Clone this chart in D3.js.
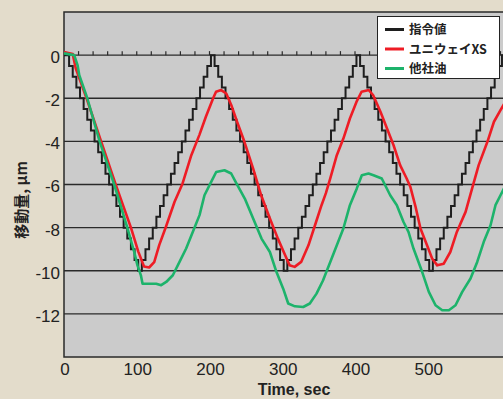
<!DOCTYPE html>
<html>
<head>
<meta charset="utf-8">
<script src="https://cdn.jsdelivr.net/npm/d3@7"></script>
<style>
  html, body { margin: 0; padding: 0; background: #e3dccb; }
  svg { display: block; }
</style>
</head>
<body>
<div id="chart"></div>
<script>
// command signal: 0.5 um steps, one value every 5 s starting at t = 2
const cmdStart = 2;
const cmdStep = 5;
const cmdValues = [
  0, -0.5, -1, -1.5, -2, -2.5, -3, -3.5, -4, -4.5, -5, -5.5, -6, -6.5, -7, -7.5, -8, -8.5, -9, -9.5, -10,
  -9.5, -9, -8.5, -8, -7.5, -7, -6.5, -6, -5.5, -5, -4.5, -4, -3.5, -3, -2.5, -2, -1.5, -1, -0.5,
  0, -0.5, -1, -1.5, -2, -2.5, -3, -3.5, -4, -4.5, -5, -5.5, -6, -6.5, -7, -7.5, -8, -8.5, -9, -9.5, -10,
  -9.5, -9, -8.5, -8, -7.5, -7, -6.5, -6, -5.5, -5, -4.5, -4, -3.5, -3, -2.5, -2, -1.5, -1, -0.5,
  0, -0.5, -1, -1.5, -2, -2.5, -3, -3.5, -4, -4.5, -5, -5.5, -6, -6.5, -7, -7.5, -8, -8.5, -9, -9.5, -10,
  -9.5, -9, -8.5, -8, -7.5, -7, -6.5, -6, -5.5, -5, -4.5, -4, -3.5, -3, -2.5, -2, -1.5, -1, -0.5,
  0, -0.5
];

// ユニウェイXS
const redTime = [0, 12, 16, 31, 51, 71, 92, 102, 110, 117, 124, 131, 140, 152, 163, 175, 186, 195, 205, 209,
  216, 223, 230, 238, 248, 260, 271, 283, 294, 304, 310, 317, 326, 336, 345, 354, 360, 366, 375, 384,
  393, 402, 409, 419, 425, 435, 444, 453, 462, 471, 476, 483, 490, 499, 506, 513, 522, 531, 540, 552,
  561, 570, 582, 591, 600, 606];
const redValue = [0.15, 0.05, -0.6, -2, -4, -6, -8, -9.1, -9.8, -9.85, -9.6, -8.8, -7.97, -6.8, -5.95, -4.64, -3.71, -2.86, -2.0, -1.7,
  -1.62, -1.78, -2.32, -3.1, -4.02, -5.26, -6.5, -7.58, -8.51, -9.28, -9.74, -9.82, -9.59, -8.82, -7.89, -6.96, -6.4, -5.72, -4.64, -3.87,
  -2.94, -2.17, -1.7, -1.62, -1.86, -2.63, -3.4, -4.18, -5.1, -5.72, -6.1, -7.0, -8.04, -8.82, -9.43, -9.75, -9.67, -9.13, -8.2, -7.27,
  -6.18, -5.1, -4.02, -3.09, -2.55, -2.2];

// 他社油
const greenTime = [0, 14, 18.6, 21, 32, 49, 69, 87, 96.5, 101, 105.6, 108, 117.5, 126.7, 133.6, 140.5, 149.6, 158.8, 167.9, 177,
  186.3, 193.1, 202.3, 209.2, 220.6, 229.8, 237, 248.5, 260, 271.5, 283, 292.1, 301.3, 308.2, 317.4, 328.8, 337.9, 347.1, 356, 366,
  375, 384, 393, 402.5, 409.4, 418.6, 425.4, 436.8, 448.4, 457.5, 466.7, 473.5, 480.4, 492.4, 501.5, 510.7, 519.9, 529, 538.2, 547.4,
  558.8, 568, 577, 586.3, 593.1, 600, 606];
const greenValue = [0.08, 0, -0.46, -0.93, -2, -4, -6, -8, -9.13, -9.75, -10.2, -10.6, -10.6, -10.6, -10.67, -10.52, -10.21, -9.59, -8.97, -8.2,
  -7.42, -6.5, -5.88, -5.42, -5.34, -5.49, -5.95, -6.65, -7.58, -8.51, -9.13, -10.06, -10.83, -11.52, -11.65, -11.68, -11.52, -11.06, -10.45, -9.59,
  -8.82, -8.04, -6.96, -6.18, -5.57, -5.49, -5.57, -5.72, -6.5, -6.96, -7.74, -8.2, -8.97, -10.06, -10.98, -11.6, -11.83, -11.83, -11.6, -10.98,
  -10.36, -9.59, -8.66, -7.89, -6.96, -6.5, -6.1];

const xTicks = [0, 100, 200, 300, 400, 500];
const yTicks = [0, -2, -4, -6, -8, -10, -12];
const legendNames = ["指令値", "ユニウェイXS", "他社油"];
const legendColors = ["#1e1e1e", "#ee1c25", "#1db36b"];

const W = 503, H = 399;
const plotLeft = 64, plotTop = 12, plotBottom = 357;

const svg = d3.select("#chart").append("svg")
    .attr("width", W)
    .attr("height", H);

const x = d3.scaleLinear().domain([0, 600]).range([plotLeft, plotLeft + 436.5]);
const y = d3.scaleLinear().domain([2, -14]).range([plotTop, plotBottom]);

svg.append("rect")
    .attr("x", plotLeft).attr("y", plotTop)
    .attr("width", W - plotLeft + 2).attr("height", plotBottom - plotTop)
    .attr("fill", "#cbcbcb")
    .attr("stroke", "#2a2a2a")
    .attr("stroke-width", 1.5);

svg.append("clipPath").attr("id", "clip")
    .append("rect")
    .attr("x", plotLeft).attr("y", plotTop)
    .attr("width", W - plotLeft).attr("height", plotBottom - plotTop);

// grid lines
svg.append("g").selectAll("line")
    .data(yTicks)
    .join("line")
    .attr("x1", plotLeft).attr("x2", W)
    .attr("y1", d => y(d)).attr("y2", d => y(d))
    .attr("stroke", "#2a2a2a")
    .attr("stroke-width", 1.3);

// small ticks on the zero line, every 20 s
svg.append("g").selectAll("line")
    .data(d3.range(20, 620, 20))
    .join("line")
    .attr("x1", d => x(d)).attr("x2", d => x(d))
    .attr("y1", y(0) - 4).attr("y2", y(0))
    .attr("stroke", "#2a2a2a")
    .attr("stroke-width", 1.2);

// y tick labels
svg.append("g").selectAll("text")
    .data(yTicks)
    .join("text")
    .attr("x", plotLeft - 4)
    .attr("y", d => y(d) + 2)
    .attr("dy", "0.35em")
    .attr("text-anchor", "end")
    .attr("font-family", "Liberation Sans, Arial, sans-serif")
    .attr("font-size", 17)
    .attr("fill", "#222")
    .text(d => d);

// x tick labels
svg.append("g").selectAll("text")
    .data(xTicks)
    .join("text")
    .attr("x", d => x(d) + 1)
    .attr("y", 375)
    .attr("text-anchor", "middle")
    .attr("font-family", "Liberation Sans, Arial, sans-serif")
    .attr("font-size", 17)
    .attr("fill", "#222")
    .text(d => d);

svg.append("text")
    .attr("x", 294)
    .attr("y", 395)
    .attr("text-anchor", "middle")
    .attr("font-family", "Liberation Sans, Arial, sans-serif")
    .attr("font-size", 16)
    .attr("font-weight", "bold")
    .attr("fill", "#222")
    .text("Time, sec");

svg.append("text")
    .attr("transform", "translate(27,200) rotate(-90)")
    .attr("text-anchor", "middle")
    .attr("font-family", "Noto Sans CJK JP, sans-serif")
    .attr("font-size", 15)
    .attr("font-weight", "bold")
    .attr("fill", "#222")
    .text("移動量, μm");

const plot = svg.append("g").attr("clip-path", "url(#clip)");

const cmdData = [[0, 0]].concat(cmdValues.map((v, i) => [cmdStart + i * cmdStep, v]));
const stepLine = d3.line()
    .x(d => x(d[0]))
    .y(d => y(d[1]))
    .curve(d3.curveStepAfter);

plot.append("path")
    .datum(cmdData)
    .attr("d", stepLine)
    .attr("fill", "none")
    .attr("stroke", legendColors[0])
    .attr("stroke-width", 2);

const line = d3.line()
    .x(d => x(d[0]))
    .y(d => y(d[1]));

plot.append("path")
    .datum(redTime.map((t, i) => [t, redValue[i]]))
    .attr("d", line)
    .attr("fill", "none")
    .attr("stroke", legendColors[1])
    .attr("stroke-width", 2.6)
    .attr("stroke-linejoin", "round");

plot.append("path")
    .datum(greenTime.map((t, i) => [t, greenValue[i]]))
    .attr("d", line)
    .attr("fill", "none")
    .attr("stroke", legendColors[2])
    .attr("stroke-width", 2.6)
    .attr("stroke-linejoin", "round");

// legend
const legend = svg.append("g");
legend.append("rect")
    .attr("x", 377.5).attr("y", 16.5)
    .attr("width", 122).attr("height", 62)
    .attr("fill", "#fff")
    .attr("stroke", "#222")
    .attr("stroke-width", 1);

const items = legend.selectAll("g.item")
    .data(legendNames)
    .join("g")
    .attr("class", "item")
    .attr("transform", (d, i) => `translate(0,${29.5 + i * 19.5})`);

items.append("line")
    .attr("x1", 385).attr("x2", 404)
    .attr("stroke", (d, i) => legendColors[i])
    .attr("stroke-width", 3);

items.append("text")
    .attr("x", 409)
    .attr("dy", "0.36em")
    .attr("font-family", "Noto Sans CJK JP, sans-serif")
    .attr("font-size", 12.5)
    .attr("font-weight", "bold")
    .attr("fill", "#222")
    .text(d => d);
</script>
</body>
</html>
